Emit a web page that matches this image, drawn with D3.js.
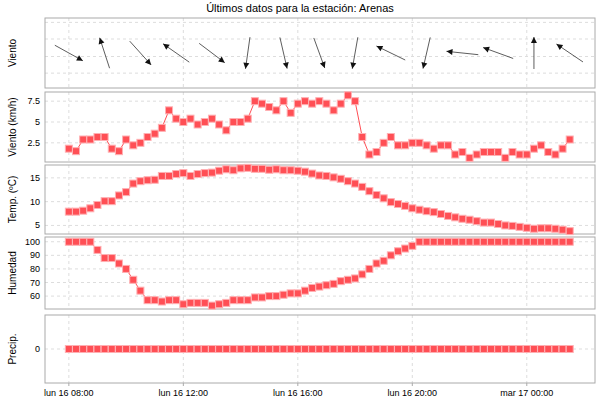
<!DOCTYPE html>
<html><head><meta charset="utf-8">
<script src="https://cdn.jsdelivr.net/npm/d3@7"></script>
<style>body{margin:0;background:#fff}svg{font-family:"Liberation Sans",Arial,sans-serif}</style>
</head><body><svg id="c" width="600" height="400"></svg>
<script>
// 15-minute readings from lun 16 08:00
const windSpeed = [1.8,1.5,2.9,2.9,3.2,3.2,1.8,1.5,2.9,2.2, 2.5,3.2,3.6,4.3,6.4,5.4,5.0,5.4,4.7,5.0,
  5.4,4.7,4.0,5.0,5.0,5.4,7.5,7.2,6.8,6.4, 7.5,6.1,7.2,7.5,7.2,7.5,7.2,6.4,7.2,8.2,
  7.5,3.2,1.1,1.4,2.5,3.2,2.2,2.2,2.5,2.5, 2.2,1.8,2.2,2.2,1.1,1.4,0.7,1.1,1.4,1.4,
  1.4,0.7,1.4,1.1,1.1,1.8,2.2,1.4,1.1,1.8,2.9];
const temperature = [7.9,7.9,8.1,8.6,9.3,10.1,10.1,11.3,12.0,13.8, 14.3,14.5,14.6,15.4,15.4,15.8,16.0,15.4,15.8,16.0,
  16.1,16.5,16.8,16.6,17.0,17.1,16.9,16.9,16.7,16.8, 16.6,16.6,16.5,16.3,15.9,15.5,15.4,15.1,14.8,14.3,
  13.8,13.1,12.2,11.4,10.7,9.9,9.5,9.1,8.6,8.3, 8.0,7.8,7.4,7.0,6.7,6.4,6.2,5.9,5.6,5.6,
  5.3,5.0,4.9,4.7,4.5,4.3,4.4,4.4,4.3,4.1,3.8];
const humidity = [100,100,100,100,94,88,88,84,80,72, 64,57,57,56,57,57,54,55,55,55,
  53,54,55,57,57,57,59,59,60,60, 61,62,62,64,66,67,68,69,71,72,
  73,76,80,84,86,90,93,95,97,100, 100,100,100,100,100,100,100,100,100,100,
  100,100,100,100,100,100,100,100,100,100,100];
const precip = windSpeed.map(() => 0);
// wind "from" direction (deg) every 5th reading
const windDirIndex = [0,5,10,15,20,25,30,35,40,45,50,55,60,65,70];
const windDir = [299,162,318,125,307,8,347,340,10,116,13,96,110,180,124];

const t0 = new Date(2025, 5, 16, 8, 0);
const times = windSpeed.map((d, i) => new Date(+t0 + i * 15 * 60000));
const days = ["dom","lun","mar","mié","jue","vie","sáb"];
const fmt = d => days[d.getDay()] + " " + d3.timeFormat("%d %H:%M")(d);

const svg = d3.select("#c");
const L = 45, R = 595, red = "#ff4f55";
const x = d3.scaleTime()
  .domain([new Date(+t0 - 50 * 60000), new Date(+times[70] + 53 * 60000)])
  .range([L, R]);

svg.append("text").attr("x", 300).attr("y", 12).attr("text-anchor", "middle")
  .attr("font-size", 11).text("Últimos datos para la estación: Arenas");

const xticks = x.ticks(d3.timeHour.every(4));

function panel(top, bottom, label, domain, ticks, values, tickFmt) {
  const y = d3.scaleLinear().domain(domain).range([bottom, top]);
  const g = svg.append("g");
  g.selectAll(".vg").data(xticks).join("line")
    .attr("x1", d => x(d)).attr("x2", d => x(d)).attr("y1", top).attr("y2", bottom)
    .attr("stroke", "#ddd").attr("stroke-dasharray", "3,3");
  g.selectAll(".hg").data(ticks).join("line")
    .attr("x1", L).attr("x2", R).attr("y1", d => y(d)).attr("y2", d => y(d))
    .attr("stroke", "#ddd").attr("stroke-dasharray", "3,3");
  g.append("rect").attr("x", L).attr("y", top).attr("width", R - L).attr("height", bottom - top)
    .attr("fill", "none").attr("stroke", "#aaa");
  g.selectAll(".tl").data(ticks).join("text")
    .attr("x", L - 5).attr("y", d => y(d) + 3).attr("text-anchor", "end")
    .attr("font-size", 9).text(tickFmt || (d => d));
  g.append("text").attr("transform", `translate(16,${(top + bottom) / 2}) rotate(-90)`)
    .attr("text-anchor", "middle").attr("font-size", 10).text(label);
  if (values) {
    g.append("path").datum(values).attr("fill", "none").attr("stroke", red)
      .attr("d", d3.line().x((d, i) => x(times[i])).y(d => y(d)));
    g.selectAll(".m").data(values).join("rect")
      .attr("x", (d, i) => x(times[i]) - 3.5).attr("y", d => y(d) - 3.5)
      .attr("width", 7).attr("height", 7).attr("fill", red)
      .attr("stroke", "#ffb0b3").attr("stroke-width", 1);
  }
  return y;
}

// wind direction panel
const yd = panel(18, 88, "Viento", [0, 4], [0.85, 1.8, 2.8, 3.75], null, () => "");
const arrows = svg.append("g");
windDirIndex.forEach((idx, k) => {
  const cx = x(times[idx]), cy = 53, len = 16;
  const a = (windDir[k] + 180) * Math.PI / 180;
  const dx = Math.sin(a) * len, dy = -Math.cos(a) * len;
  arrows.append("line").attr("x1", cx - dx).attr("y1", cy - dy).attr("x2", cx + dx).attr("y2", cy + dy)
    .attr("stroke", "#333").attr("stroke-width", 0.8);
  const ux = dx / len, uy = dy / len, hx = cx + dx, hy = cy + dy;
  arrows.append("path")
    .attr("d", `M${hx},${hy}L${hx - ux * 6 - uy * 3},${hy - uy * 6 + ux * 3}L${hx - ux * 6 + uy * 3},${hy - uy * 6 - ux * 3}Z`)
    .attr("fill", "#111");
});

panel(92, 162, "Viento (km/h)", [0.2, 8.6], [2.5, 5, 7.5], windSpeed, d => d);
panel(165, 234, "Temp. (ºC)", [3.2, 17.7], [5, 10, 15], temperature);
panel(237, 309, "Humedad", [50.5, 103.5], [60, 70, 80, 90, 100], humidity);
panel(315, 383, "Precip.", [-1, 1], [0], precip);

svg.selectAll(".xl").data(xticks).join("text")
  .attr("x", d => x(d)).attr("y", 396).attr("text-anchor", "middle")
  .attr("font-size", 9).text(fmt);
svg.selectAll(".xt").data(xticks).join("line")
  .attr("x1", d => x(d)).attr("x2", d => x(d)).attr("y1", 383).attr("y2", 386).attr("stroke", "#aaa");
</script></body></html>
